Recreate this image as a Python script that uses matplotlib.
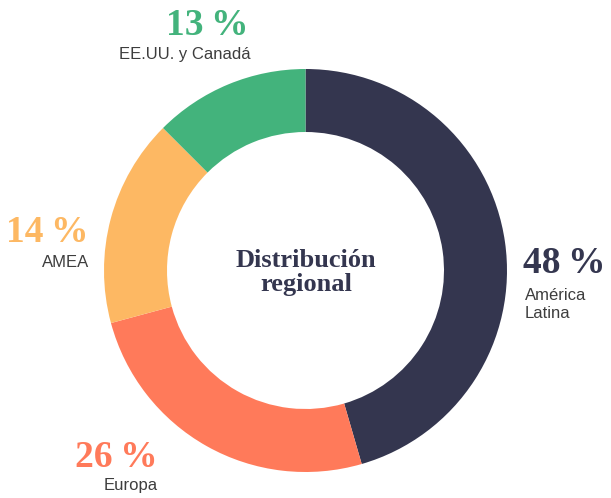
import matplotlib
matplotlib.use("Agg")
import matplotlib.pyplot as plt

# Data
regions = ["América\nLatina", "Europa", "AMEA", "EE.UU. y Canadá"]
pct_labels = ["48 %", "26 %", "14 %", "13 %"]
# slice shares as drawn in the reference (measured angles)
shares = [45.5, 25.3, 16.7, 12.5]
colors = ["#34364f", "#ff7a5a", "#fdb863", "#43b37c"]
center_title = ["Distribución", "regional"]

W, H = 611, 498
fig = plt.figure(figsize=(W / 100, H / 100), dpi=100)
ax = fig.add_axes([0, 0, 1, 1])

cx, cy_px = 305.5, 270.5
R, ring = 201.5, 63

def Y(ypx):
    return H - ypx

ax.pie(shares, colors=colors, startangle=90, counterclock=False,
       radius=R, center=(cx, Y(cy_px)),
       wedgeprops=dict(width=ring, edgecolor="none", linewidth=0))
ax.set_xlim(0, W)
ax.set_ylim(0, H)
ax.set_aspect("equal")
ax.axis("off")

serif = ["Liberation Serif", "DejaVu Serif"]
sans = ["Liberation Sans", "DejaVu Sans"]
label_color = "#3d3d3d"
pct_size = 27
lab_size = 12

# label layout: (pct x, pct baseline, label x, first label baseline, ha)
layout = [
    (523, 273, 525, 300, "left"),
    (158, 467, 158, 490, "right"),
    (88, 242, 89, 267, "right"),
    (249, 35, 251, 59, "right"),
]

for pct, reg, col, (px, pb, lx, lb, ha) in zip(pct_labels, regions, colors, layout):
    ax.text(px, Y(pb), pct.replace(" ", "\u2009"), color=col, fontsize=pct_size,
            fontweight="bold", family=serif, ha=ha, va="baseline")
    for i, line in enumerate(reg.split("\n")):
        ax.text(lx, Y(lb + i * 18), line, color=label_color, fontsize=lab_size,
                family=sans, ha=ha, va="baseline")

for i, line in enumerate(center_title):
    ax.text(306, Y(267 + i * 24), line, color="#34364f", fontsize=19,
            fontweight="bold", family=serif, ha="center", va="baseline")

fig.savefig("out.png", dpi=100, facecolor="white")
